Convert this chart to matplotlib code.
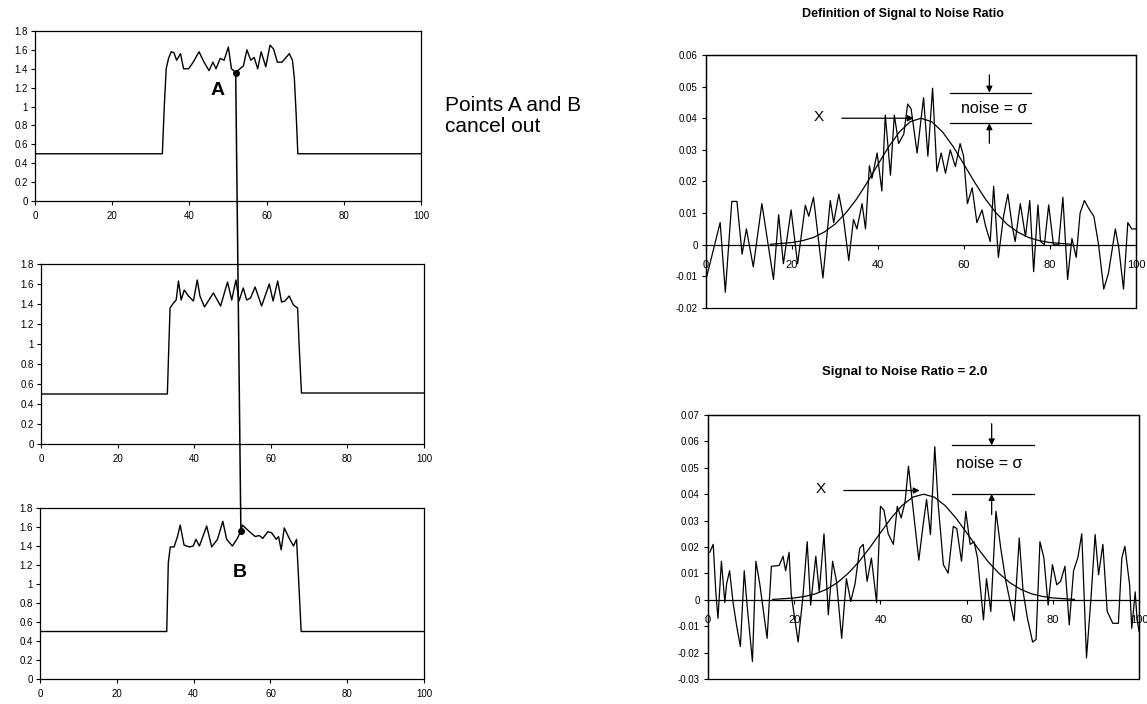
import matplotlib.pyplot as plt
from matplotlib.patches import ConnectionPatch, Rectangle

plt.rcParams['font.family'] = ['Liberation Sans', 'DejaVu Sans']

# ---- left column: three noisy pulses (x in 0..100, y in 0..1.8) ----
pulse_a_x = [0, 33, 33.5, 34, 34.6, 35.3, 36, 36.7, 37.7, 38.5,
             39.8, 41, 42.5, 43.8, 45.1, 46.1, 46.9, 48, 49, 50.1,
             50.9, 52, 53.1, 54, 54.9, 55.9, 56.8, 57.7, 58.6, 59.8,
             60.9, 61.8, 62.8, 64, 65.9, 66.7, 67.2, 67.7, 68.1, 100]
pulse_a_y = [0.5, 0.5, 1.0, 1.4, 1.51, 1.58, 1.57, 1.49, 1.56, 1.40,
             1.40, 1.47, 1.58, 1.47, 1.38, 1.47, 1.40, 1.51, 1.49, 1.63,
             1.40, 1.36, 1.40, 1.43, 1.60, 1.49, 1.52, 1.40, 1.58, 1.42,
             1.65, 1.61, 1.47, 1.47, 1.56, 1.49, 1.30, 0.89, 0.5, 0.5]

pulse_m_x = [0, 33, 33.3, 33.7, 34.6, 35.3, 35.9, 36.6, 37.4, 38.5,
             39.8, 40.8, 41.5, 42.7, 45, 46.9, 48.7, 49.8, 50.9, 51.7,
             52.8, 53.7, 54.7, 55.9, 57.6, 59.6, 60.6, 61.8, 62.8, 63.7,
             64.8, 65.9, 67, 67.4, 68, 100]
pulse_m_y = [0.5, 0.5, 0.88, 1.36, 1.41, 1.44, 1.63, 1.44, 1.54, 1.48,
             1.43, 1.64, 1.48, 1.37, 1.51, 1.38, 1.62, 1.44, 1.64, 1.43,
             1.56, 1.44, 1.46, 1.57, 1.38, 1.60, 1.43, 1.63, 1.42, 1.43,
             1.48, 1.39, 1.36, 0.98, 0.51, 0.51]

pulse_b_x = [0, 33, 33.4, 33.9, 34.9, 35.8, 36.5, 37.5, 38.9, 39.9,
             40.6, 41.5, 43.4, 44.7, 46.2, 47.6, 48.6, 50.1, 51.4, 52.3,
             52.7, 54.3, 56, 57.1, 58, 59.3, 60.3, 61.5, 62.1, 62.8,
             63.6, 64.9, 66, 66.8, 67.3, 68, 100]
pulse_b_y = [0.5, 0.5, 1.22, 1.39, 1.39, 1.50, 1.62, 1.41, 1.39, 1.40,
             1.47, 1.40, 1.61, 1.39, 1.47, 1.66, 1.47, 1.40, 1.48, 1.56,
             1.62, 1.56, 1.50, 1.51, 1.48, 1.55, 1.54, 1.47, 1.50, 1.36,
             1.59, 1.48, 1.40, 1.47, 1.08, 0.5, 0.5]

point_a = (52, 1.36)
point_b = (52.3, 1.56)

left_xticks = [0, 20, 40, 60, 80, 100]
left_yticks = [0, 0.2, 0.4, 0.6, 0.8, 1, 1.2, 1.4, 1.6, 1.8]

# ---- right column: noisy gaussian peaks ----
def_x = [0, 3.3, 4.5, 6, 7.2, 8.4, 9.4, 11, 13, 15.7,
         16.9, 18, 19.8, 21.3, 23.1, 23.9, 25, 27.2, 28.9, 29.7,
         30.9, 32, 33.2, 34.3, 35.1, 36.3, 37.1, 38, 38.6, 39.8,
         40.9, 41.7, 42.9, 43.8, 44.8, 46, 46.9, 47.7, 48.1, 49.1,
         50.6, 51.6, 52.7, 53.7, 54.7, 55.7, 56.8, 58, 59.1, 59.9,
         60.8, 61.9, 63, 64.2, 65, 66.1, 66.9, 68, 69.2, 70.2,
         71.2, 71.9, 73.1, 74.3, 75.3, 76.2, 77.2, 77.8, 78.7, 79.7,
         80.8, 82, 83, 84.1, 85.1, 86.1, 87, 88, 89, 90.2,
         91.3, 92.5, 93.6, 95.2, 96, 97.1, 98.1, 99, 100]
def_y = [-0.011, 0.007, -0.015, 0.0137, 0.0137, -0.003, 0.005, -0.007, 0.013, -0.011,
         0.0095, -0.006, 0.011, -0.006, 0.0125, 0.009, 0.015, -0.0105, 0.014, 0.007,
         0.016, 0.008, -0.005, 0.008, 0.005, 0.013, 0.005, 0.025, 0.021, 0.029,
         0.017, 0.041, 0.022, 0.041, 0.032, 0.035, 0.0445, 0.043, 0.039, 0.029,
         0.0465, 0.028, 0.0495, 0.0232, 0.029, 0.0226, 0.030, 0.0247, 0.032, 0.028,
         0.013, 0.018, 0.007, 0.011, 0.006, 0.001, 0.0185, -0.004, 0.009, 0.016,
         0.006, 0.001, 0.013, 0.0026, 0.014, -0.0085, 0.0126, 0.001, 0.0, 0.0126,
         0.0, 0.0, 0.015, -0.011, 0.002, -0.004, 0.010, 0.014, 0.0115, 0.009,
         0.0, -0.014, -0.009, 0.005, -0.001, -0.014, 0.007, 0.005, 0.005]

snr_x = [0.4, 1.2, 1.8, 2.3, 3.1, 3.9, 4.3, 5, 5.8, 6.6,
         7.5, 8.4, 9.0, 10.3, 11.1, 12, 13.7, 14.7, 16.5, 17.4,
         18, 18.8, 19.3, 20.1, 20.9, 22, 23, 23.8, 25, 25.8,
         26.9, 27.9, 28.9, 29.8, 31, 32.1, 33.1, 34.1, 35.2, 36,
         36.9, 37.9, 39.1, 40, 40.8, 41.8, 43, 43.9, 44.8, 45.7,
         46.5, 47.4, 48.9, 49.9, 50.7, 51.6, 52.6, 53.4, 54.6, 55.7,
         56.9, 57.7, 58.8, 59.8, 60.8, 61.7, 62.5, 63.9, 64.6, 65.6,
         66.8, 67.9, 69.1, 71, 72.2, 73.1, 74.1, 75.3, 76.1, 77,
         77.9, 78.9, 79.9, 80.9, 81.8, 82.8, 83.8, 84.8, 85.8, 86.7,
         87.8, 88.9, 89.8, 90.6, 91.6, 92.6, 93.9, 95.2, 96, 96.7,
         97.8, 98.3, 99.1, 99.5, 100]
snr_y = [0.018, 0.021, 0.003, -0.007, 0.0146, -0.001, 0.006, 0.011, -0.001, -0.0095,
         -0.0177, 0.011, -0.001, -0.0234, 0.0146, 0.006, -0.0146, 0.0127, 0.013, 0.0165,
         0.011, 0.018, 0.002, -0.007, -0.016, 0.001, 0.022, -0.002, 0.0165, 0.003,
         0.025, -0.0057, 0.0146, 0.007, -0.0146, 0.008, -0.0006, 0.006, 0.0196, 0.021,
         0.007, 0.0158, -0.001, 0.0354, 0.034, 0.025, 0.021, 0.0354, 0.031, 0.037,
         0.0506, 0.037, 0.015, 0.0285, 0.038, 0.0247, 0.058, 0.036, 0.0133, 0.0101,
         0.0278, 0.027, 0.0146, 0.0335, 0.021, 0.022, 0.016, -0.0076, 0.008, -0.0044,
         0.0335, 0.0196, 0.007, -0.008, 0.0234, 0.003, -0.007, -0.016, -0.015, 0.022,
         0.016, -0.002, 0.0133, 0.0057, 0.007, 0.0127, -0.0095, 0.011, 0.016, 0.025,
         -0.022, 0.002, 0.0247, 0.0095, 0.021, -0.0044, -0.0089, -0.0089, 0.0158, 0.0203,
         0.0057, -0.0108, 0.003, -0.007, -0.012]

# smooth underlying signal
gauss_x = [15, 20, 22.5, 25, 27.5, 30, 32.5, 35, 37.5, 40,
           42.5, 45, 47.5, 50, 52.5, 55, 57.5, 60, 62.5, 65,
           67.5, 70, 72.5, 75, 77.5, 80, 85]
gauss_y = [0.00015, 0.0007, 0.0013, 0.0023, 0.004, 0.0065, 0.0100, 0.0144, 0.0197, 0.0254,
           0.031, 0.0357, 0.0389, 0.040, 0.0389, 0.0357, 0.031, 0.0254, 0.0197, 0.0144,
           0.0100, 0.0065, 0.004, 0.0023, 0.0013, 0.0007, 0.00015]

right_xticks = [0, 20, 40, 60, 80, 100]
def_yticks = [-0.02, -0.01, 0, 0.01, 0.02, 0.03, 0.04, 0.05, 0.06]
snr_yticks = [-0.03, -0.02, -0.01, 0, 0.01, 0.02, 0.03, 0.04, 0.05, 0.06, 0.07]

# annotation positions (data coords) for the X arrow and the noise band
def_marks = dict(x_label=(26.2, 0.0405), x_arrow=(31.6, 48.3, 0.040),
                 band=(56.8, 75.6, 0.0481, 0.0384), band_x=65.9,
                 down_from=0.0537, up_from=0.0321, noise_label=(67.1, 0.0432))
snr_marks = dict(x_label=(26.2, 0.0421), x_arrow=(31.5, 49.1, 0.0414),
                 band=(56.7, 75.6, 0.0585, 0.0401), band_x=65.8,
                 down_from=0.0667, up_from=0.0323, noise_label=(65.1, 0.0516))


def pulse_panel(ax, xs, ys):
    ax.plot(xs, ys, color='black', lw=1.0)
    ax.set_xlim(0, 100)
    ax.set_ylim(0, 1.8)
    ax.set_xticks(left_xticks)
    ax.set_yticks(left_yticks)
    ax.set_yticklabels([f'{v:g}' for v in left_yticks])
    ax.tick_params(labelsize=7, length=3, width=0.8, pad=2)
    ax.tick_params(axis='x', pad=4)
    for s in ax.spines.values():
        s.set_linewidth(0.9)


def noise_panel(ax, xs, ys, yticks, m):
    ax.plot(xs, ys, color='black', lw=0.9)
    ax.plot(gauss_x, gauss_y, color='black', lw=0.9)
    ax.set_xlim(0, 100)
    ax.set_ylim(yticks[0], yticks[-1])
    ax.set_xticks(right_xticks)
    ax.set_yticks(yticks)
    ax.set_yticklabels([f'{v:g}' for v in yticks])
    ax.spines['bottom'].set_position(('data', 0))
    ax.add_patch(Rectangle((0, 0), 1, 1, transform=ax.transAxes, fill=False,
                           lw=0.9, color='black', clip_on=False))
    ax.tick_params(labelsize=7, length=3, width=0.8, pad=3)
    ax.tick_params(axis='x', labelsize=8, pad=8)
    for s in ax.spines.values():
        s.set_linewidth(0.9)

    arrow = dict(arrowstyle='-|>', color='black', lw=0.9, mutation_scale=9,
                 shrinkA=0, shrinkB=0)
    ax.text(*m['x_label'], 'X', fontsize=11, ha='center', va='center')
    x0, x1, ya = m['x_arrow']
    ax.annotate('', xy=(x1, ya), xytext=(x0, ya), arrowprops=arrow)
    b0, b1, top, bot = m['band']
    ax.plot([b0, b1], [top, top], color='black', lw=0.9)
    ax.plot([b0, b1], [bot, bot], color='black', lw=0.9)
    ax.annotate('', xy=(m['band_x'], top), xytext=(m['band_x'], m['down_from']),
                arrowprops=arrow)
    ax.annotate('', xy=(m['band_x'], bot), xytext=(m['band_x'], m['up_from']),
                arrowprops=arrow)
    ax.text(*m['noise_label'], 'noise = σ', fontsize=11.5, ha='center', va='center')


fig = plt.figure(figsize=(11.47, 7.04), dpi=100)

ax_a = fig.add_axes([0.0305, 0.7145, 0.3365, 0.2415])
ax_m = fig.add_axes([0.0357, 0.3693, 0.3340, 0.2557])
ax_b = fig.add_axes([0.0349, 0.0355, 0.3348, 0.2429])
ax_def = fig.add_axes([0.6155, 0.5625, 0.3749, 0.3594])
ax_snr = fig.add_axes([0.6173, 0.0355, 0.3758, 0.3750])

pulse_panel(ax_a, pulse_a_x, pulse_a_y)
pulse_panel(ax_m, pulse_m_x, pulse_m_y)
pulse_panel(ax_b, pulse_b_x, pulse_b_y)

ax_a.plot(*point_a, 'o', ms=4, color='black')
ax_b.plot(*point_b, 'o', ms=4, color='black')
ax_a.text(47.2, 1.165, 'A', fontsize=14, fontweight='bold', ha='center', va='center')
ax_b.text(52.1, 1.126, 'B', fontsize=14, fontweight='bold', ha='center', va='center')

# line joining A and B across the three panels
con = ConnectionPatch(xyA=point_a, coordsA='data', axesA=ax_a,
                      xyB=point_b, coordsB='data', axesB=ax_b,
                      color='black', lw=1.1)
fig.add_artist(con)

fig.text(445 / 1147, 1 - 96 / 704, 'Points A and B\ncancel out', fontsize=15,
         va='top', ha='left', linespacing=1.15)

noise_panel(ax_def, def_x, def_y, def_yticks, def_marks)
noise_panel(ax_snr, snr_x, snr_y, snr_yticks, snr_marks)

fig.text(903 / 1147, 1 - 14 / 704, 'Definition of Signal to Noise Ratio',
         fontsize=9, fontweight='bold', ha='center', va='center')
fig.text(905 / 1147, 1 - 372 / 704, 'Signal to Noise Ratio = 2.0',
         fontsize=9.5, fontweight='bold', ha='center', va='center')

fig.savefig('out.png', dpi=100)
